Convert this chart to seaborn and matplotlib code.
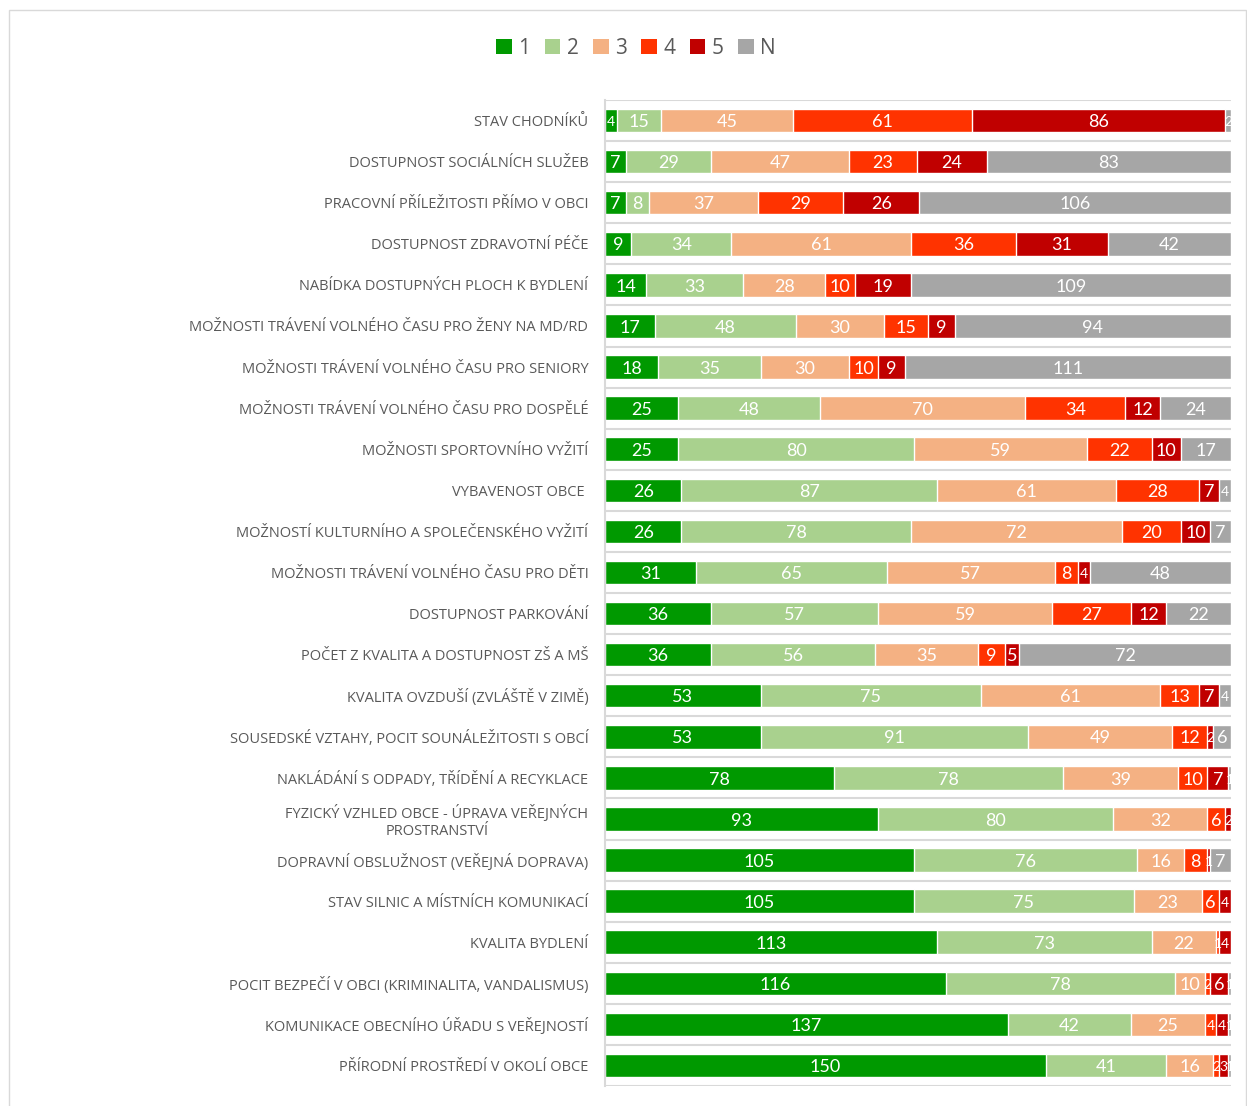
import numpy as np
import pandas as pd
import matplotlib.pyplot as plt
import seaborn as sns
from matplotlib.patches import Patch, Rectangle

# categories, top to bottom
categories = [
    "STAV CHODNÍKŮ",
    "DOSTUPNOST SOCIÁLNÍCH SLUŽEB",
    "PRACOVNÍ PŘÍLEŽITOSTI PŘÍMO V OBCI",
    "DOSTUPNOST ZDRAVOTNÍ PÉČE",
    "NABÍDKA DOSTUPNÝCH PLOCH K BYDLENÍ",
    "MOŽNOSTI TRÁVENÍ VOLNÉHO ČASU PRO ŽENY NA MD/RD",
    "MOŽNOSTI TRÁVENÍ VOLNÉHO ČASU PRO SENIORY",
    "MOŽNOSTI TRÁVENÍ VOLNÉHO ČASU PRO DOSPĚLÉ",
    "MOŽNOSTI SPORTOVNÍHO VYŽITÍ",
    "VYBAVENOST OBCE ",
    "MOŽNOSTÍ KULTURNÍHO A SPOLEČENSKÉHO VYŽITÍ",
    "MOŽNOSTI TRÁVENÍ VOLNÉHO ČASU PRO DĚTI",
    "DOSTUPNOST PARKOVÁNÍ",
    "POČET Z KVALITA A DOSTUPNOST ZŠ A MŠ",
    "KVALITA OVZDUŠÍ (ZVLÁŠTĚ V ZIMĚ)",
    "SOUSEDSKÉ VZTAHY, POCIT SOUNÁLEŽITOSTI S OBCÍ",
    "NAKLÁDÁNÍ S ODPADY, TŘÍDĚNÍ A RECYKLACE",
    "FYZICKÝ VZHLED OBCE - ÚPRAVA VEŘEJNÝCH\nPROSTRANSTVÍ",
    "DOPRAVNÍ OBSLUŽNOST (VEŘEJNÁ DOPRAVA)",
    "STAV SILNIC A MÍSTNÍCH KOMUNIKACÍ",
    "KVALITA BYDLENÍ",
    "POCIT BEZPEČÍ V OBCI (KRIMINALITA, VANDALISMUS)",
    "KOMUNIKACE OBECNÍHO ÚŘADU S VEŘEJNOSTÍ",
    "PŘÍRODNÍ PROSTŘEDÍ V OKOLÍ OBCE",
]

# answer counts per grade
grade_1 = [4, 7, 7, 9, 14, 17, 18, 25, 25, 26, 26, 31, 36, 36, 53, 53, 78, 93, 105, 105, 113, 116, 137, 150]
grade_2 = [15, 29, 8, 34, 33, 48, 35, 48, 80, 87, 78, 65, 57, 56, 75, 91, 78, 80, 76, 75, 73, 78, 42, 41]
grade_3 = [45, 47, 37, 61, 28, 30, 30, 70, 59, 61, 72, 57, 59, 35, 61, 49, 39, 32, 16, 23, 22, 10, 25, 16]
grade_4 = [61, 23, 29, 36, 10, 15, 10, 34, 22, 28, 20, 8, 27, 9, 13, 12, 10, 6, 8, 6, 1, 2, 4, 2]
grade_5 = [86, 24, 26, 31, 19, 9, 9, 12, 10, 7, 10, 4, 12, 5, 7, 2, 7, 2, 1, 4, 4, 6, 4, 3]
grade_n = [2, 83, 106, 42, 109, 94, 111, 24, 17, 4, 7, 48, 22, 72, 4, 6, 1, 0, 7, 0, 0, 1, 1, 1]

levels = ["1", "2", "3", "4", "5", "N"]
colors = ["#009900", "#A9D18E", "#F4B183", "#FF3300", "#C00000", "#A6A6A6"]

counts = pd.DataFrame(
    dict(zip(levels, [grade_1, grade_2, grade_3, grade_4, grade_5, grade_n])),
    index=categories,
)
shares = counts.div(counts.sum(axis=1), axis=0)
cum = shares.cumsum(axis=1)

sns.set_theme(style="white")
plt.rcParams["font.family"] = ["Open Sans", "DejaVu Sans"]

fig = plt.figure(figsize=(12.47, 11.06), dpi=100)
ax = fig.add_axes([605 / 1247, 1 - 1086 / 1106, 626 / 1247, 986 / 1106])

# draw cumulative bars from the last level back to the first
for lev, col in reversed(list(zip(levels, colors))):
    df = pd.DataFrame({"cat": categories, "val": cum[lev].values})
    sns.barplot(data=df, y="cat", x="val", order=categories, color=col,
                saturation=1, width=0.57, orient="h", ax=ax, errorbar=None)

# value labels in the middle of each segment (tiny segments get a smaller font)
for i, cat in enumerate(categories):
    for lev in levels:
        n = counts.loc[cat, lev]
        if n == 0:
            continue
        share = shares.loc[cat, lev]
        mid = cum.loc[cat, lev] - share / 2
        size = 13 if share > 0.02 else 10
        ax.text(mid, i + 0.04, str(n), ha="center", va="center", color="white",
                fontsize=size, fontfamily=["Lato", "DejaVu Sans"])

ax.set_xlim(0, 1)
ax.set_ylim(len(categories) - 0.5, -0.5)
ax.set_xlabel("")
ax.set_ylabel("")
ax.set_xticks([])
ax.set_yticks(range(len(categories)))
ax.set_yticklabels(categories)
for lbl in ax.get_yticklabels():
    lbl.set_multialignment("center")
ax.tick_params(axis="y", length=0, pad=12, labelsize=10.5, labelcolor="#595959")

# light lines between categories
ax.set_yticks(np.arange(-0.5, len(categories), 1), minor=True)
ax.tick_params(axis="y", which="minor", length=0)
ax.grid(which="minor", axis="y", color="#D9D9D9", lw=1.5)
ax.set_axisbelow(True)
for side in ["top", "right", "bottom"]:
    ax.spines[side].set_visible(False)
ax.spines["left"].set_color("#D9D9D9")
ax.spines["left"].set_linewidth(1.5)

handles = [Patch(facecolor=c, edgecolor="none", label=l) for l, c in zip(levels, colors)]
fig.legend(handles=handles, loc="center", bbox_to_anchor=(0.51, 1 - 48 / 1106), ncol=6,
           frameon=False, handlelength=0.75, handleheight=0.75, handletextpad=0.3,
           columnspacing=0.7, fontsize=15, labelcolor="#595959")

# chart border
fig.patches.append(Rectangle((9 / 1247, -0.01), 1237 / 1247, 1 - 10 / 1106 + 0.01,
                             transform=fig.transFigure, fill=False,
                             edgecolor="#D9D9D9", lw=1))

fig.savefig("out.png", dpi=100, facecolor="white")
